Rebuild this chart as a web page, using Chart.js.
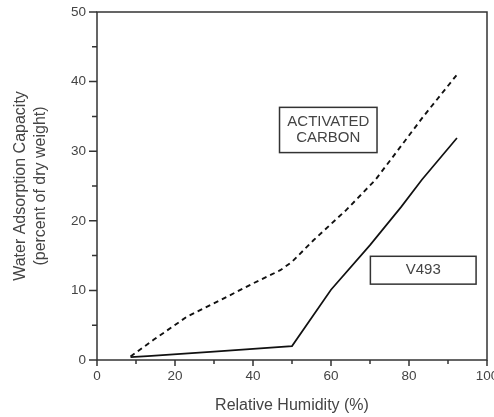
<!DOCTYPE html>
<html>
<head>
<meta charset="utf-8">
<script src="https://cdn.jsdelivr.net/npm/chart.js@4/dist/chart.umd.min.js"></script>
<style>
  body { margin: 0; background: #fff; overflow: hidden; }
  #clip { width: 494px; height: 417px; overflow: hidden; }
  #wrap { width: 510px; height: 417px; position: relative; }
</style>
</head>
<body>
<div id="clip"><div id="wrap"><canvas id="myChart"></canvas></div></div>
<script>
// data
const humidityCarbon = [8.6, 14.5, 23, 32, 40, 47, 50, 55.5, 64, 71.4, 75.2, 83.7, 92.3];
const capacityCarbon = [0.5, 2.9, 6.2, 8.7, 11, 12.9, 14.1, 17.2, 21.6, 25.9, 28.7, 35, 41];
const humidityV493 = [8.6, 13, 30, 50, 60, 70, 78, 83.3, 92.3];
const capacityV493 = [0.4, 0.55, 1.2, 2.0, 10.1, 16.5, 22, 25.9, 31.9];

const xTicks = [0, 10, 20, 30, 40, 50, 60, 70, 80, 90, 100];
const yTicks = [0, 5, 10, 15, 20, 25, 30, 35, 40, 45, 50];

const labelBoxes = [
  { text: ["ACTIVATED", "CARBON"], x1: 46.8, x2: 71.8, y1: 36.3, y2: 29.8 },
  { text: ["V493"], x1: 70.1, x2: 97.2, y1: 14.9, y2: 10.9 }
];

const textColor = "#444";
const axisColor = "#333";
const fontFamily = "'Liberation Sans', Arial, sans-serif";

function toPoints(xs, ys) {
  return xs.map((x, i) => ({ x: x, y: ys[i] }));
}

// box frame, tick marks and label boxes
const framePlugin = {
  id: "frame",
  afterDraw(chart) {
    const ctx = chart.ctx;
    const a = chart.chartArea;
    const x = chart.scales.x;
    const y = chart.scales.y;
    ctx.save();
    ctx.strokeStyle = axisColor;
    ctx.lineWidth = 1.5;
    ctx.strokeRect(a.left, a.top, a.right - a.left, a.bottom - a.top);

    ctx.beginPath();
    xTicks.forEach(v => {
      const px = x.getPixelForValue(v);
      const len = v % 20 === 0 ? 6 : 4;
      ctx.moveTo(px, a.bottom);
      ctx.lineTo(px, a.bottom + len);
    });
    yTicks.forEach(v => {
      const py = y.getPixelForValue(v);
      const len = v % 10 === 0 ? 8 : 5;
      ctx.moveTo(a.left, py);
      ctx.lineTo(a.left - len, py);
    });
    ctx.stroke();

    ctx.font = "15px " + fontFamily;
    ctx.textAlign = "center";
    ctx.textBaseline = "middle";
    labelBoxes.forEach(b => {
      const l = x.getPixelForValue(b.x1);
      const r = x.getPixelForValue(b.x2);
      const t = y.getPixelForValue(b.y1);
      const btm = y.getPixelForValue(b.y2);
      ctx.strokeStyle = axisColor;
      ctx.lineWidth = 1.5;
      ctx.strokeRect(l, t, r - l, btm - t);
      ctx.fillStyle = textColor;
      const cx = (l + r) / 2;
      const cy = (t + btm) / 2;
      const lh = 16;
      b.text.forEach((line, i) => {
        ctx.fillText(line, cx, cy + (i - (b.text.length - 1) / 2) * lh);
      });
    });
    ctx.restore();
  }
};

const ctx = document.getElementById("myChart").getContext("2d");
const chart = new Chart(ctx, {
  type: "scatter",
  data: {
    datasets: [
      {
        label: "Activated Carbon",
        data: toPoints(humidityCarbon, capacityCarbon),
        showLine: true,
        borderColor: "#111",
        borderWidth: 1.9,
        borderDash: [5, 4],
        pointRadius: 0,
        tension: 0
      },
      {
        label: "V493",
        data: toPoints(humidityV493, capacityV493),
        showLine: true,
        borderColor: "#111",
        borderWidth: 1.7,
        pointRadius: 0,
        tension: 0
      }
    ]
  },
  options: {
    responsive: true,
    maintainAspectRatio: false,
    animation: false,
    layout: { padding: { top: 12, right: 23, left: 0, bottom: 0 } },
    plugins: { legend: { display: false }, tooltip: { enabled: false } },
    scales: {
      x: {
        type: "linear",
        min: 0,
        max: 100,
        afterFit: s => { s.height = 57; },
        border: { display: false },
        grid: { drawOnChartArea: false, drawTicks: true, tickLength: 6, color: "transparent" },
        ticks: {
          stepSize: 10,
          autoSkip: false,
          maxRotation: 0,
          padding: 2,
          color: textColor,
          font: { family: fontFamily, size: 13.5 },
          callback: v => (v % 20 === 0 ? v : "")
        },
        title: {
          display: true,
          text: "Relative Humidity (%)",
          color: textColor,
          padding: { top: 0, bottom: 2 },
          font: { family: fontFamily, size: 16 }
        }
      },
      y: {
        min: 0,
        max: 50,
        afterFit: s => { s.width = 97; },
        border: { display: false },
        grid: { drawOnChartArea: false, drawTicks: true, tickLength: 8, color: "transparent" },
        ticks: {
          stepSize: 5,
          autoSkip: false,
          padding: 3,
          color: textColor,
          font: { family: fontFamily, size: 13.5 },
          callback: v => (v % 10 === 0 ? v : "")
        },
        title: {
          display: true,
          text: ["Water Adsorption Capacity", "(percent of dry weight)"],
          color: textColor,
          padding: { top: 10.5, bottom: 0 },
          font: { family: fontFamily, size: 16, lineHeight: 1.25 }
        }
      }
    }
  },
  plugins: [framePlugin]
});
</script>
</body>
</html>
